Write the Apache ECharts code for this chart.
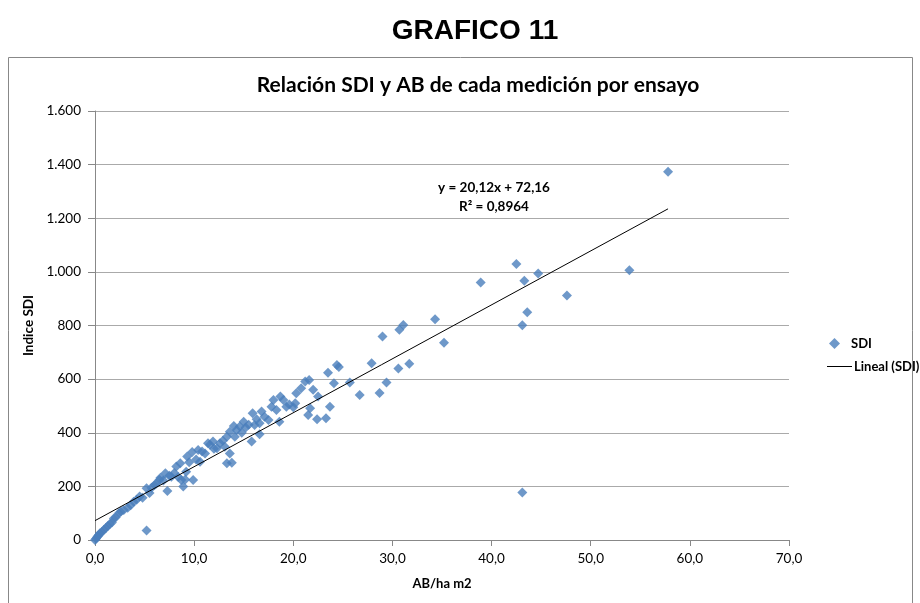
<!DOCTYPE html>
<html>
<head>
<meta charset="utf-8">
<title>GRAFICO 11</title>
<script src="https://cdn.jsdelivr.net/npm/echarts@6/dist/echarts.min.js"></script>
<style>
  html, body { margin: 0; padding: 0; background: #fff; }
  #chart { width: 920px; height: 603px; }
</style>
</head>
<body>
<div id="chart"></div>
<script>
// AB/ha m2 (x) y Indice SDI (y)
const abValues = [
  0.0, 0.1, 0.2, 0.3, 0.4, 0.5, 0.7, 0.9, 1.1, 1.3, 1.5, 1.7, 1.9, 2.1, 2.4, 2.6, 2.9, 3.3, 3.6, 3.9, 4.2, 4.5, 4.8, 5.2,
  5.2, 5.5, 5.7, 6.0, 6.2, 6.5, 6.6, 6.9, 7.1, 7.3, 7.5, 7.7, 8.0, 8.2, 8.4, 8.6, 8.7, 8.9, 9.1, 9.2, 9.3, 9.5, 9.8, 9.9,
  10.2, 10.4, 10.6, 10.8, 11.1, 11.4, 11.6, 11.9, 12.0, 12.3, 12.6, 12.9, 13.1, 13.3, 13.3, 13.6, 13.6, 13.8, 14.0, 14.1, 14.3, 14.6, 14.8, 15.0,
  15.2, 15.5, 15.8, 15.9, 16.1, 16.3, 16.6, 16.6, 16.8, 17.1, 17.5, 17.8, 18.0, 18.3, 18.6, 18.7, 19.0, 19.3, 19.6, 20.0,
  20.2, 20.3, 20.8, 21.2, 21.5, 21.6, 21.7, 22.0, 22.4, 22.5, 23.3, 23.5, 23.7, 24.1, 24.4, 24.6,
  25.7, 26.7, 27.9, 28.7, 29.0, 29.4, 30.6, 30.7, 31.1, 31.7, 34.3, 35.2, 38.9,
  42.5, 43.1, 43.1, 43.3, 43.6, 44.7, 47.6, 53.9, 57.8
];
const sdiValues = [
  0, 5, 10, 15, 20, 25, 30, 38, 45, 52, 60, 65, 80, 85, 100, 105, 112, 120, 130, 143, 150, 162, 158, 35,
  193, 175, 195, 205, 211, 225, 232, 222, 249, 183, 240, 236, 250, 274, 235, 286, 224, 200, 226, 255, 311, 290, 328, 224,
  300, 336, 292, 330, 323, 361, 355, 367, 340, 342, 361, 370, 348, 385, 286, 404, 323, 288, 425, 385, 410, 423, 400, 441,
  420, 430, 367, 473, 429, 450, 435, 394, 479, 460, 448, 497, 522, 485, 441, 535, 522, 497, 505, 495,
  510, 547, 566, 591, 466, 597, 491, 560, 450, 535, 454, 624, 497, 585, 653, 645,
  587, 541, 659, 548, 759, 587, 640, 784, 802, 657, 823, 736, 960,
  1029, 177, 801, 967, 849, 994, 912, 1006, 1373
];

// linea de tendencia (Excel): y = 20,12x + 72,16
const trendSlope = 20.12;
const trendIntercept = 72.16;
const trendRange = [0, 57.8];

const xTicks = [0, 10, 20, 30, 40, 50, 60, 70];
const yTicks = [0, 200, 400, 600, 800, 1000, 1200, 1400, 1600];

const points = abValues.map((x, i) => [x, sdiValues[i]]);
const trendPoints = trendRange.map((x) => [x, trendSlope * x + trendIntercept]);

const chart = echarts.init(document.getElementById("chart"));

const labelFont = "Lato, 'Liberation Sans', sans-serif";
const legendText = { fontFamily: labelFont, fontWeight: "bold", fontSize: 13, color: "#000" };

chart.setOption({
  animation: false,
  backgroundColor: "#fff",
  title: [
    {
      text: "GRAFICO 11",
      left: 470,
      textAlign: "center",
      top: 12,
      textStyle: { fontFamily: "'Liberation Sans', Arial", fontWeight: "bold", fontSize: 28, color: "#000" },
    },
    {
      text: "Relación SDI y AB de cada medición por ensayo",
      left: 473,
      textAlign: "center",
      top: 70,
      textStyle: { fontFamily: labelFont, fontWeight: "bold", fontSize: 21, color: "#000" },
    },
  ],
  grid: { left: 95, right: 131, top: 111, bottom: 63 },
  legend: [
    {
      left: 824,
      top: 332,
      itemWidth: 11,
      itemHeight: 11,
      itemGap: 6,
      textStyle: Object.assign({ padding: [0, 0, 0, 6] }, legendText),
      data: [{ name: "SDI", icon: "diamond" }],
    },
    {
      left: 822,
      top: 355,
      itemWidth: 25,
      itemHeight: 14,
      itemGap: 2,
      textStyle: Object.assign({ padding: [0, 0, 0, -3] }, legendText),
      data: [{ name: "Lineal (SDI)", icon: "path://M0,7 L25,7 L25,8 L0,8 Z" }],
    },
  ],
  xAxis: {
    type: "value",
    min: xTicks[0],
    max: xTicks[xTicks.length - 1],
    interval: 10,
    name: "AB/ha m2",
    nameLocation: "middle",
    nameGap: 37,
    nameTextStyle: { fontFamily: labelFont, fontWeight: "bold", fontSize: 13, color: "#000" },
    axisLine: { show: true, lineStyle: { color: "#888" } },
    axisTick: { show: true, length: 6, lineStyle: { color: "#888" } },
    splitLine: { show: false },
    axisLabel: {
      margin: 12,
      fontFamily: labelFont,
      fontSize: 13.5,
      color: "#000",
      formatter: (v) => v.toFixed(1).replace(".", ","),
    },
  },
  yAxis: {
    type: "value",
    min: yTicks[0],
    max: yTicks[yTicks.length - 1],
    interval: 200,
    name: "Indice SDI",
    nameLocation: "middle",
    nameGap: 54,
    nameRotate: 90,
    nameTextStyle: { fontFamily: labelFont, fontWeight: "bold", fontSize: 13.5, color: "#000" },
    axisLine: { show: true, lineStyle: { color: "#888" } },
    axisTick: { show: true, length: 7, lineStyle: { color: "#888" } },
    splitLine: { show: true, lineStyle: { color: "#aaa", width: 1 } },
    axisLabel: {
      margin: 14,
      fontFamily: labelFont,
      fontSize: 13.5,
      color: "#000",
      formatter: (v) => v.toLocaleString("de-DE"),
    },
  },
  series: [
    {
      name: "SDI",
      type: "scatter",
      symbol: "diamond",
      symbolSize: 10,
      itemStyle: { color: "#4a7ebb" },
      data: points,
      z: 3,
    },
    {
      name: "Lineal (SDI)",
      type: "line",
      symbol: "none",
      lineStyle: { color: "#000", width: 1 },
      itemStyle: { color: "#000" },
      data: trendPoints,
      z: 4,
    },
  ],
  graphic: [
    {
      type: "rect",
      shape: { x: 8.5, y: 57.5, width: 904, height: 560 },
      style: { fill: "none", stroke: "#888", lineWidth: 1 },
      silent: true,
      z: -1,
    },
    {
      type: "text",
      x: 494,
      y: 178,
      style: {
        text: "y = 20,12x + 72,16\nR² = 0,8964",
        fontFamily: labelFont,
        fontWeight: "bold",
        fontSize: 13.5,
        lineHeight: 19,
        align: "center",
        fill: "#000",
      },
    },
  ],
});
</script>
</body>
</html>
